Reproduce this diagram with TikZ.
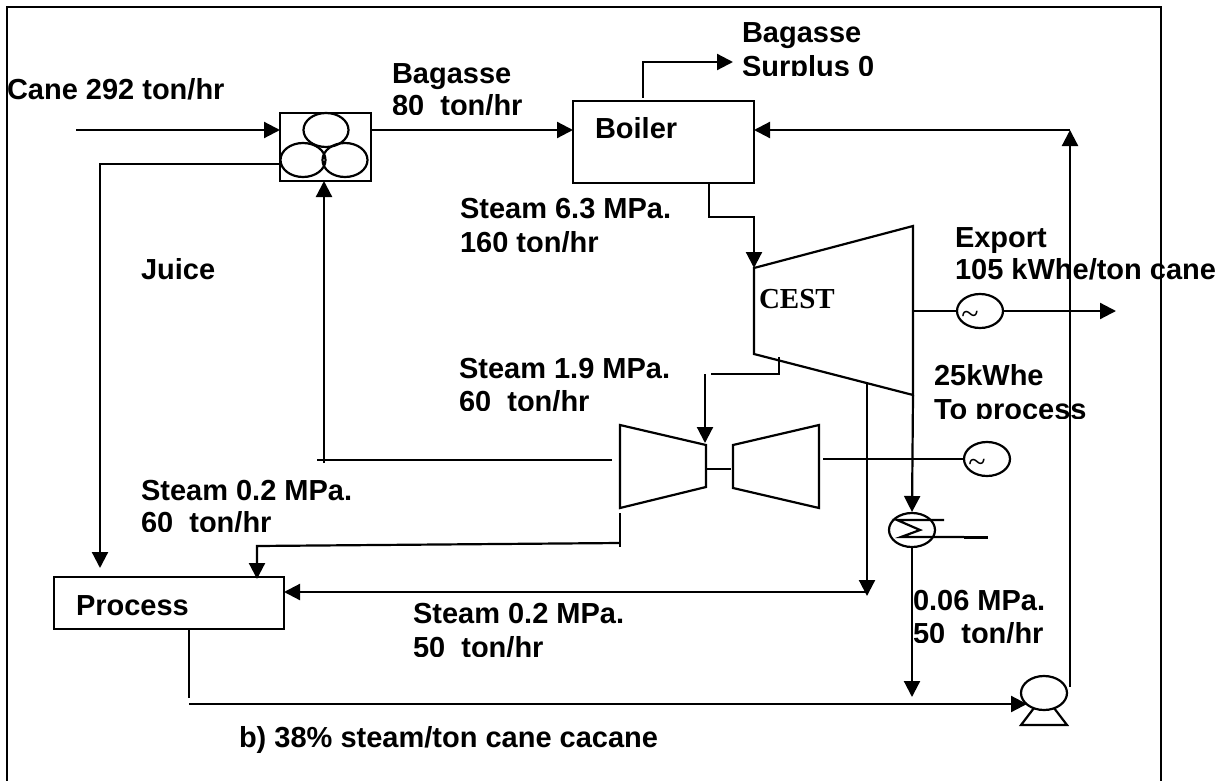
\documentclass[tikz,border=0pt]{standalone}
\usepackage{fontspec}
\setmainfont{Liberation Sans}
\newfontfamily\serifface{Liberation Serif}
\usetikzlibrary{positioning}
\usetikzlibrary{arrows.meta,shapes.geometric}
\tikzstyle{edge} = [draw,line width=2.2pt,-{Triangle[length=16pt,width=16pt]}]
\tikzstyle{plainedge} = [draw,line width=2.2pt]
\tikzstyle{unit} = [rectangle,draw,line width=2.2pt,outer sep=0pt,inner sep=0pt]
\tikzstyle{drum} = [ellipse,draw,line width=2.2pt,outer sep=0pt,inner sep=0pt,minimum width=46pt,minimum height=34pt]
\tikzstyle{flowtext} = [anchor=base west,inner sep=0pt,outer sep=0pt,font=\fontsize{29}{32}\selectfont\bfseries]
\tikzstyle{wave} = [inner sep=0pt,font=\fontsize{32}{32}\selectfont\serifface]

\begin{document}
\begin{tikzpicture}[x=1pt,y=-1pt]
    \useasboundingbox (0,0) rectangle (1228,781);

    % Draw the frame, open at the bottom
    \draw[line width=2.2pt] (7,781) -- (7,7) -- (1161,7) -- (1161,781);

    % First we draw the units
    \node[unit,minimum width=91pt,minimum height=68pt] (mill) at (325.5,147) {};
    \foreach \pos/\name in {{(326,130)/millA}, {(303,160)/millB}, {(345,160)/millC}}
        \node[drum,minimum width=45pt] (\name) at \pos {};
    \node[unit,minimum width=181pt,minimum height=82pt] (boiler) at (663.5,142) {};
    \node[unit,minimum width=230pt,minimum height=52pt] (process) at (169,603) {};
    \foreach \pos/\name in {{(980,311)/genA}, {(987,459)/genB}, {(912,530)/cond}, {(1044,693)/pump}}
        \node[drum] (\name) at \pos {};

    % Turbines and pump base
    \draw[line width=2.2pt] (754,268) -- (913,226) -- (913,395) -- (754,354) -- cycle;
    \draw[line width=2.2pt] (620,425) -- (706,445) -- (706,487) -- (620,508) -- cycle;
    \draw[line width=2.2pt] (733,445) -- (819,425) -- (819,508) -- (733,488) -- cycle;
    \draw[line width=2.2pt] (1034,708) -- (1021,725) -- (1067,725) -- (1054,708);

    % Coil of the condenser
    \draw[line width=2.2pt] (944,520) -- (897,520) -- (920,530) -- (901,537) -- (964,537);
    \draw[line width=3pt] (964,537) -- (988,537);

    % Free ends of the connectors
    \foreach \pos/\name in {{(76,130)/caneIn}, {(100,164)/juiceA}, {(100,568)/juiceB},
        {(643,98)/surplusA}, {(643,62)/surplusB}, {(733,62)/surplusC},
        {(1070,687)/feedA}, {(1070,130)/feedB}, {(709,183)/hpA}, {(709,217)/hpB}, {(754,217)/hpC}, {(754,268)/hpD},
        {(913,311)/powerA}, {(1116,311)/powerB}, {(779,357)/mpA}, {(779,374)/mpB}, {(711,374)/mpC},
        {(705,374)/mpD}, {(705,443)/mpE}, {(707,469)/shaftA}, {(731,469)/shaftB}, {(823,459)/shaftC},
        {(612,460)/lpA}, {(317,460)/lpB}, {(324,463)/lpC}, {(324,181)/lpD}, {(620,513)/backA}, {(620,547)/backB}, {(620,543)/backC},
        {(257,546)/backD}, {(257,579)/backE}, {(867,382)/extrA}, {(867,596)/extrB}, {(867,592)/extrC}, {(284,592)/extrD},
        {(913,395)/condA}, {(912,512)/condB}, {(912,547)/condC}, {(912,697)/condD},
        {(189,629)/retA}, {(189,698)/retB}, {(189,704)/retC}, {(1027,704)/retD}}
        \path \pos coordinate (\name);

    % Connect units with straight arrows
    \foreach \source/ \dest in {feedA/feedB, mpD/mpE, lpC/lpD, extrA/extrB, extrC/extrD,
        condA/condB, condC/condD, retC/retD, genA.east/powerB}
        \path[edge] (\source) -- (\dest);
    \path[edge] (caneIn) -- (mill.west |- caneIn);
    \path[edge] (mill.east |- caneIn) -- (boiler.west |- caneIn);
    \path[edge] (feedB) -- (boiler.east |- feedB);

    % Connect units with plain lines
    \foreach \source/ \dest in {powerA/genA.west, shaftA/shaftB, shaftC/genB.west, lpA/lpB, backA/backB, retA/retB}
        \path[plainedge] (\source) -- (\dest);

    % Bent connectors
    \path[edge] (mill.west |- juiceA) -- (juiceA) -- (juiceB);
    \path[edge] (surplusA) -- (surplusB) -- (surplusC);
    \path[edge] (hpA) -- (hpB) -- (hpC) -- (hpD);
    \path[plainedge] (mpA) -- (mpB) -- (mpC);
    \path[edge] (backC) -- (backD) -- (backE);

    % Generator marks
    \foreach \pos/\name in {{(970,318)/waveA}, {(977,466)/waveB}}
        \node[wave] (\name) at \pos {\textasciitilde};

    % Whole labels
    \foreach \x/\y/\name/\txt in {7/100/cane/{Cane 292 ton/hr}, 392/84/bagA/{Bagasse}, 742/43/surA/{Bagasse},
        595/139/boilerText/{Boiler}, 76/615/processText/{Process}, 460/218/hpText/{Steam 6.3 MPa.},
        141/279/juice/{Juice}, 955/247/expA/{Export}, 955/279/expB/{105 kWhe/ton cane},
        934/385/twentyfive/{25kWhe}, 459/378/mpText/{Steam 1.9 MPa.}, 141/500/lpText/{Steam 0.2 MPa.},
        413/623/extrText/{Steam 0.2 MPa.}, 913/610/condText/{0.06 MPa.}, 239/747/caption/{b) 38\% steam/ton cane cacane}}
        \node[flowtext] (\name) at (\x,\y) {\txt};

    % Labels cut off along the bottom
    \foreach \x/\y/\name/\txt in {392/115/bagB/{80\ \ ton/hr}, 742/76/surB/{Surplus 0}, 460/251/hpFlow/{160 ton/hr},
        459/410/mpFlow/{60\ \ ton/hr}, 934/418/toProcess/{To process}, 141/531/lpFlow/{60\ \ ton/hr},
        413/656/extrFlow/{50\ \ ton/hr}, 913/642/condFlow/{50\ \ ton/hr}}{
        \begin{scope}
            \clip (\x-5,\y-30) rectangle (\x+300,\y);
            \node[flowtext] (\name) at (\x,\y+1) {\txt};
        \end{scope}
    }

    \node[flowtext,font=\fontsize{29}{32}\selectfont\bfseries\serifface] (cest) at (759,308) {CEST};
\end{tikzpicture}
\end{document}
